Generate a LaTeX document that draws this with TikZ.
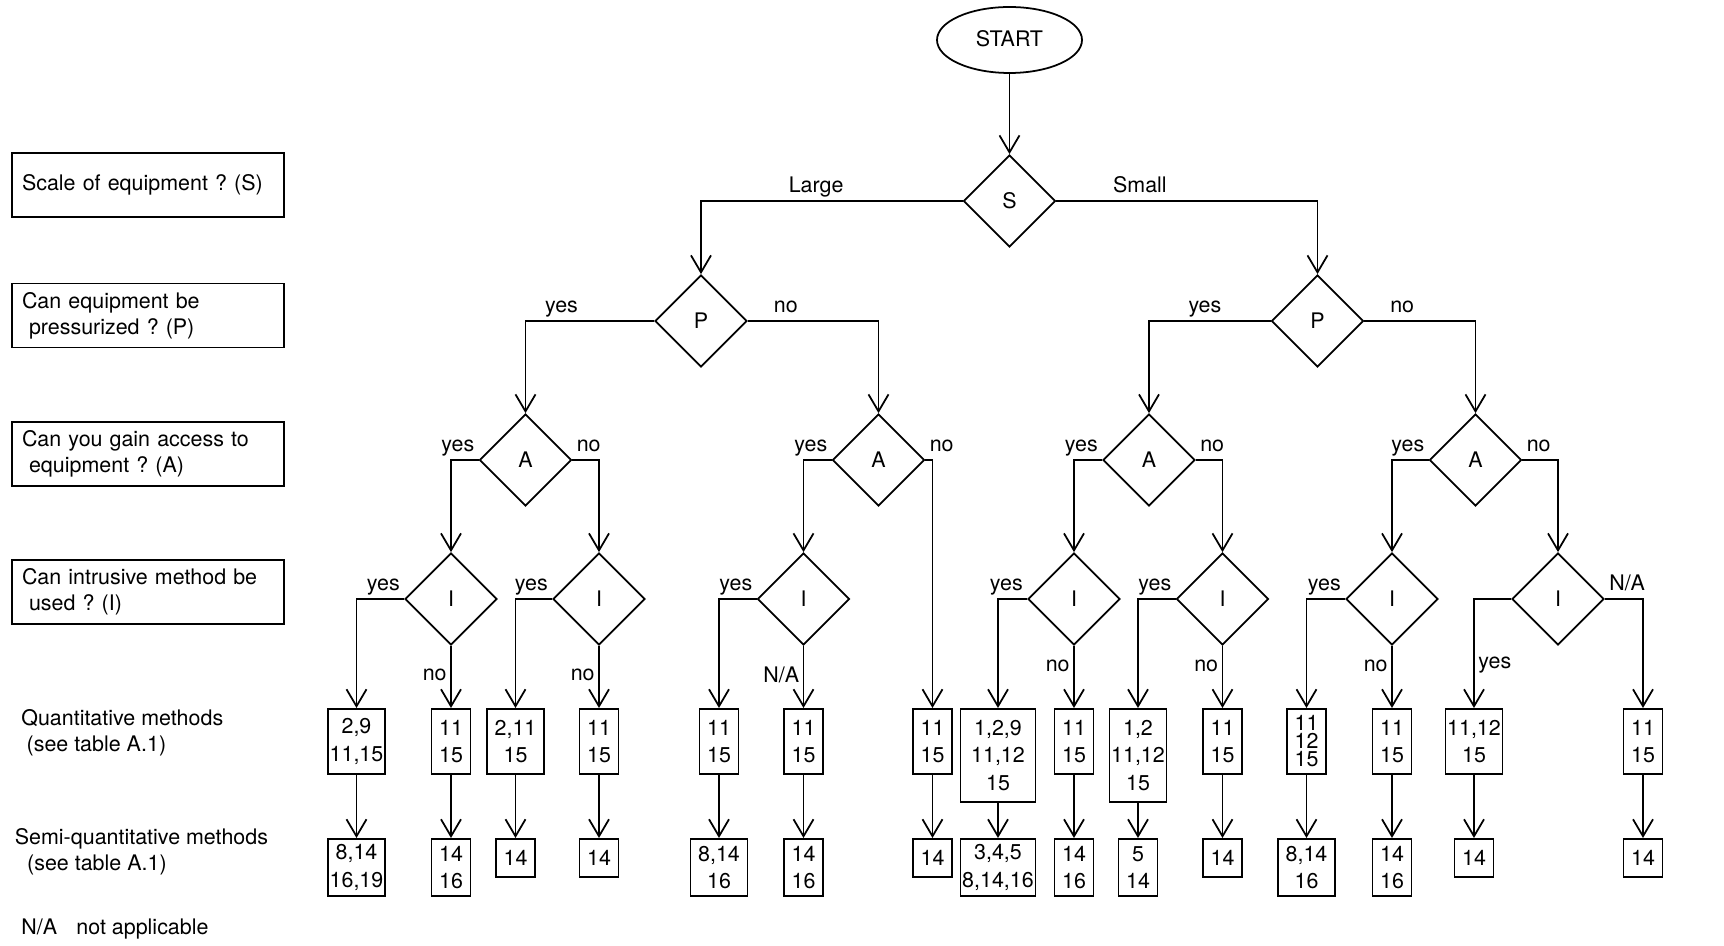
\documentclass[tikz,border=0pt]{standalone}
\usepackage{fontspec}
\setmainfont{TeX Gyre Heros}
\usetikzlibrary{arrows.meta,positioning,shapes.geometric}
\frenchspacing

\begin{document}
\begin{tikzpicture}[
  line width=1pt,
  arr/.style={-{Straight Barb[length=3.4mm,width=4mm]}},
  dec/.style={draw, diamond, aspect=1, inner sep=0pt,
    minimum width=1.84cm, minimum height=1.84cm, font=\fontsize{12.2}{15}\selectfont},
  qbox/.style={draw, anchor=north, align=center, inner sep=1pt,
    minimum width=0.78cm, minimum height=1.3cm, font=\fontsize{12.2}{15.7}\selectfont},
  sbox/.style={qbox, minimum height=1.14cm},
  lone/.style={minimum height=0.76cm},
  ques/.style={draw, align=left, text width=5.04cm, inner xsep=0.2cm,
    minimum height=1.28cm, font=\fontsize{12.2}{14.7}\selectfont},
  lbl/.style={inner sep=2pt, text depth=0.22em, font=\fontsize{12.2}{14.7}\selectfont},
  leg/.style={anchor=west, align=left, inner sep=0pt, font=\fontsize{12.2}{14.7}\selectfont}
]
  \useasboundingbox (0,0) rectangle (34.48,-18.92);

  % -- questions on the left --
  \node[ques] (qS) at (2.96,-3.70) {Scale of equipment ? (S)};
  \node[ques] (qP) at (2.96,-6.31) {Can equipment be\\\hspace*{4pt}pressurized ? (P)};
  \node[ques] (qA) at (2.96,-9.08) {Can you gain access to\\\hspace*{4pt}equipment ? (A)};
  \node[ques] (qI) at (2.96,-11.84) {Can intrusive method be\\\hspace*{4pt}used ? (I)};

  \node[leg] (lQ) at (0.41,-14.66) {Quantitative methods\\\hspace*{3pt}(see table A.1)};
  \node[leg] (lS) at (0.28,-17.03) {Semi-quantitative methods\\\hspace*{7pt}(see table A.1)};
  \node[leg] (lNA) at (0.41,-18.58) {N/A\hspace{11pt}not applicable};

  % -- decisions --
  \node[draw, ellipse, lbl, minimum width=2.9cm, minimum height=1.32cm] (start) at (20.19,-0.80) {START};
  \node[dec] (S) at (20.19,-4.02) {S};
  \node[dec] (PL) at (14.02,-6.42) {P};
  \node[dec] (PR) at (26.35,-6.42) {P};
  \node[dec] (A1) at (10.51,-9.20) {A};
  \node[dec] (A2) at (17.57,-9.20) {A};
  \node[dec] (A3) at (22.98,-9.20) {A};
  \node[dec] (A4) at (29.51,-9.20) {A};
  \node[dec] (I1) at (9.02,-11.98) {I};
  \node[dec] (I2) at (11.98,-11.98) {I};
  \node[dec] (I3) at (16.07,-11.98) {I};
  \node[dec] (I4) at (21.48,-11.98) {I};
  \node[dec] (I5) at (24.45,-11.98) {I};
  \node[dec] (I6) at (27.84,-11.98) {I};
  \node[dec] (I7) at (31.16,-11.98) {I};

  % -- quantitative methods --
  \node[qbox, minimum width=1.14cm] (q1) at (7.13,-14.16) {2,9\\11,15};
  \node[qbox] (q2) at (9.02,-14.16) {11\\15};
  \node[qbox, minimum width=1.14cm] (q3) at (10.31,-14.16) {2,11\\15};
  \node[qbox] (q4) at (11.98,-14.16) {11\\15};
  \node[qbox] (q5) at (14.38,-14.16) {11\\15};
  \node[qbox] (q6) at (16.07,-14.16) {11\\15};
  \node[qbox] (q7) at (18.65,-14.16) {11\\15};
  \node[qbox, minimum width=1.5cm, minimum height=1.86cm] (q8) at (19.96,-14.16) {1,2,9\\11,12\\15};
  \node[qbox] (q9) at (21.48,-14.16) {11\\15};
  \node[qbox, minimum width=1.14cm, minimum height=1.86cm] (q10) at (22.76,-14.16) {1,2\\11,12\\15};
  \node[qbox] (q11) at (24.45,-14.16) {11\\15};
  \node[qbox, font=\fontsize{12.2}{10.3}\selectfont] (q12) at (26.13,-14.16) {11\\12\\15};
  \node[qbox] (q13) at (27.84,-14.16) {11\\15};
  \node[qbox, minimum width=1.14cm] (q14) at (29.48,-14.16) {11,12\\15};
  \node[qbox] (q15) at (32.86,-14.16) {11\\15};

  % -- semi-quantitative methods --
  \node[sbox, minimum width=1.14cm] (s1) at (7.13,-16.76) {8,14\\16,19};
  \node[sbox] (s2) at (9.02,-16.76) {14\\16};
  \node[sbox, lone] (s3) at (10.31,-16.76) {14};
  \node[sbox, lone] (s4) at (11.98,-16.76) {14};
  \node[sbox, minimum width=1.14cm] (s5) at (14.38,-16.76) {8,14\\16};
  \node[sbox] (s6) at (16.07,-16.76) {14\\16};
  \node[sbox, lone] (s7) at (18.65,-16.76) {14};
  \node[sbox, minimum width=1.5cm] (s8) at (19.96,-16.76) {3,4,5\\8,14,16};
  \node[sbox] (s9) at (21.48,-16.76) {14\\16};
  \node[sbox] (s10) at (22.76,-16.76) {5\\14};
  \node[sbox, lone] (s11) at (24.45,-16.76) {14};
  \node[sbox, minimum width=1.14cm] (s12) at (26.13,-16.76) {8,14\\16};
  \node[sbox] (s13) at (27.84,-16.76) {14\\16};
  \node[sbox, lone] (s14) at (29.48,-16.76) {14};
  \node[sbox, lone] (s15) at (32.86,-16.76) {14};

  % -- connectors --
  \draw[arr] (start) -- (S);
  \draw[arr] (S.west) -| node[lbl, above, pos=0.28] {Large} (PL.north);
  \draw[arr] (S.east) -| node[lbl, above, pos=0.16] {Small} (PR.north);

  \draw[arr] (PL.west) -| node[lbl, above, pos=0.36] {yes} (A1.north);
  \draw[arr] (PL.east) -| node[lbl, above, pos=0.145] {no} (A2.north);
  \draw[arr] (PR.west) -| node[lbl, above, pos=0.27] {yes} (A3.north);
  \draw[arr] (PR.east) -| node[lbl, above, pos=0.17] {no} (A4.north);

  \draw[arr] (A1.west) -| node[lbl, above left, pos=0] {yes} (I1.north);
  \draw[arr] (A1.east) -| node[lbl, above right, pos=0] {no} (I2.north);
  \draw[arr] (A2.west) -| node[lbl, above left, pos=0] {yes} (I3.north);
  \draw[arr] (A2.east) -| node[lbl, above right, pos=0] {no} (q7.north);
  \draw[arr] (A3.west) -| node[lbl, above left, pos=0] {yes} (I4.north);
  \draw[arr] (A3.east) -| node[lbl, above right, pos=0] {no} (I5.north);
  \draw[arr] (A4.west) -| node[lbl, above left, pos=0] {yes} (I6.north);
  \draw[arr] (A4.east) -| node[lbl, above right, pos=0] {no} (I7.north);

  \draw[arr] (I1.west) -| node[lbl, above left, pos=0] {yes} (q1.north);
  \draw[arr] (I1) -- node[lbl, left] {no} (q2);
  \draw[arr] (I2.west) -| node[lbl, above left, pos=0] {yes} (q3.north);
  \draw[arr] (I2) -- node[lbl, left] {no} (q4);
  \draw[arr] (I3.west) -| node[lbl, above left, pos=0] {yes} (q5.north);
  \draw[arr] (I3) -- node[lbl, left] {N/A} (q6);
  \draw[arr] (I4.west) -| node[lbl, above left, pos=0] {yes} (q8.north);
  \draw[arr] (I4) -- node[lbl, left, pos=0.35] {no} (q9);
  \draw[arr] (I5.west) -| node[lbl, above left, pos=0] {yes} (q10.north);
  \draw[arr] (I5) -- node[lbl, left, pos=0.35] {no} (q11);
  \draw[arr] (I6.west) -| node[lbl, above left, pos=0] {yes} (q12.north);
  \draw[arr] (I6) -- node[lbl, left, pos=0.35] {no} (q13);
  \draw[arr] (I7.west) -| node[lbl, right, pos=0.8] {yes} (q14.north);
  \draw[arr] (I7.east) -| node[lbl, above right, pos=0] {N/A} (q15.north);

  \foreach \i in {1,...,15}
    \draw[arr] (q\i) -- (s\i);
\end{tikzpicture}
\end{document}
